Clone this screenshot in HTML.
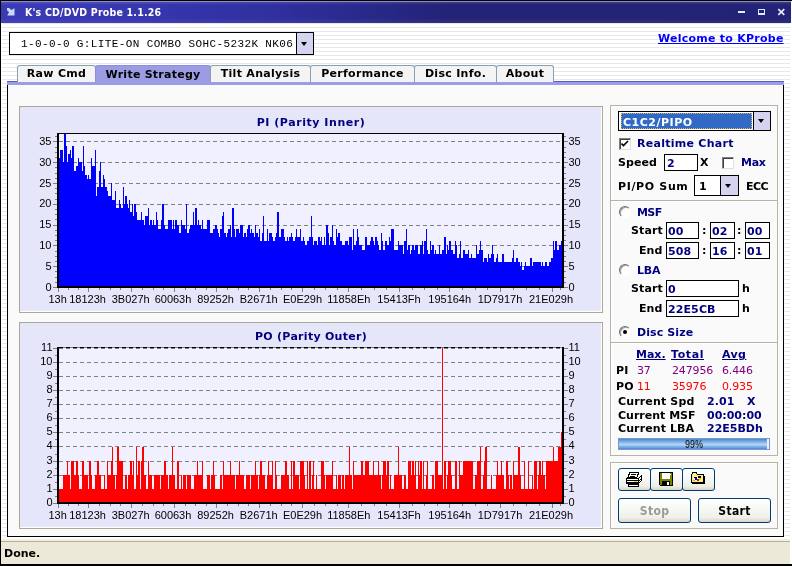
<!DOCTYPE html>
<html><head><meta charset="utf-8"><title>K's CD/DVD Probe 1.1.26</title>
<style>
*{box-sizing:border-box;margin:0;padding:0}
html,body{width:792px;height:566px;overflow:hidden;background:#fff}
body{position:relative;font-family:"DejaVu Sans","Liberation Sans",sans-serif;font-weight:bold;font-size:11px;color:#000}
.abs,body>div,body>svg,body>span{position:absolute}
#frame{left:0;top:0;width:792px;height:566px;background:#fff;border-left:1px solid #000;border-top:1px solid #000;border-bottom:2px solid #000}
#client{left:2px;top:23px;width:788px;height:516px;background:repeating-linear-gradient(to bottom,#e8e8e8 0,#e8e8e8 1px,#fff 1px,#fff 4px)}
#title{left:1px;top:1px;width:790px;height:22px;border-top:1px solid #8c8cc4;background:linear-gradient(to bottom,rgba(255,255,255,.12) 0,rgba(255,255,255,0) 3px,rgba(255,255,255,0) 16px,rgba(255,255,255,.06) 100%),linear-gradient(to right,#3a3ab6 0,#3636ae 150px,#2f2f9e 280px,#29298c 360px,#232378 440px,#222276 100%)}
#ttext{left:24.5px;top:6px;color:#fff;font-family:'DejaVu Sans Condensed','DejaVu Sans',sans-serif;font-size:10.5px;letter-spacing:0.2px;white-space:nowrap}
#status{left:1px;top:539px;width:789px;height:25px;background:#ece9d8;border-top:2px solid #f2efdf;box-shadow:inset 0 1px 0 #b4b09c}
#stext{left:4px;top:547px;letter-spacing:0px}
.t{white-space:nowrap;line-height:13px;will-change:transform}
.navy{color:#000080}
.cpanel{left:19px;width:584px;height:207px;background:#e6e6fa;border:1px solid #aca899;box-shadow:inset -1px -1px 0 #fff}
.csvg{pointer-events:none;will-change:transform}
.tab span,.btn span,.ctitle,#ttext{will-change:transform}
.ctitle{left:19px;width:584px;text-align:center;font-size:11px;letter-spacing:0.55px;color:#000080;line-height:13px}

body{letter-spacing:0.1px}
.mono{font-family:"Liberation Mono",monospace;font-weight:normal;font-size:11px;letter-spacing:0.38px}
.link{color:#00f;text-decoration:underline}
.u{text-decoration:underline}
.val{font-weight:normal;letter-spacing:-0.15px}
.ddbtn{background:#d4d4f0}
.arrow{width:0;height:0;border-left:3.5px solid transparent;border-right:3.5px solid transparent;border-top:4px solid #000}
.tab{top:65px;height:17px;background:#f4f4f4;border:1px solid #8aa0b0;border-bottom:0;border-radius:3px 3px 0 0;text-align:center;line-height:15px}
.tab span{position:relative;top:0px;letter-spacing:0.3px}
.tab.act span{top:1px;letter-spacing:0.25px}
.tab.act{top:65px;height:17px;background:#9c9ce4;border-color:#8c8ce0}
.grp{border:1px solid #b8b4a4;box-shadow:inset 1px 1px 0 #fff}
.edit{background:#fff;border:1px solid #000}
.chk{width:12px;height:12px;background:#fff;border:1px solid #808080;border-right-color:#e0e0e0;border-bottom-color:#e0e0e0;box-shadow:inset 1px 1px 0 #404040}
.radio{width:12px;height:12px;background:#fff;border-radius:6px;border:1px solid #707070;border-right-color:#fff;border-bottom-color:#fff;box-shadow:inset 1px 1px 0 #a0a0a0}
#prog{border:1px solid #7a98c8;background:linear-gradient(to bottom,#4a86d8 0,#9cc8f0 45%,#b4d8f4 55%,#4a86d8 100%)}
.btn span{position:relative;top:1px}
.btn{background:linear-gradient(to bottom,#fff,#f0f0ea 80%,#d8d4c8);border:1px solid #003c74;border-radius:3px;text-align:center;line-height:22px;font-family:'DejaVu Sans Condensed','DejaVu Sans',sans-serif;font-size:12px;letter-spacing:0.35px}
</style></head><body>
<div id="frame"></div>
<div id="title"></div>
<div id="ttext" class="t">K's CD/DVD Probe 1.1.26</div>
<svg style="left:6.5px;top:8px" width="8" height="8" viewBox="0 0 8 8"><path d="M0 0h2.2l2 2L7.5 0.3V7.5H0.3L2 4.2 0 2.2z" fill="#c8d8fa"/></svg>
<svg style="left:738px;top:8px" width="50" height="10" viewBox="0 0 50 10" shape-rendering="crispEdges">
<rect x="0" y="3" width="7" height="2" fill="#e4eaff"/>
<rect x="20.5" y="1.5" width="6" height="5" fill="none" stroke="#dfe6ff"/><rect x="20" y="5" width="7" height="2" fill="#dfe6ff"/>
<path d="M40.3 1.2l6 5.6M46.3 1.2l-6 5.6" stroke="#e8ecff" stroke-width="1.7" shape-rendering="auto"/>
</svg>
<div id="client"></div>

<div id="combo" style="left:9px;top:32px;width:305px;height:23px;background:#fff;border:1px solid #000"></div>
<div class="t mono" style="left:20.5px;top:38px">1-0-0-0 G:LITE-ON COMBO SOHC-5232K NK06</div>
<div class="ddbtn" style="left:296px;top:33px;width:17px;height:21px;border-left:1px solid #000"></div>
<div class="arrow" style="left:301px;top:42px"></div>
<div class="t link" style="left:658px;top:32px;letter-spacing:0.25px">Welcome to KProbe</div>


<div id="tpanel" style="left:7px;top:81px;width:777px;height:456px;background:#fafafa;border:1px solid #000;border-top:0"></div>
<div id="tband" style="left:7px;top:81px;width:777px;height:4px;background:#9c9cea;border-top:1px solid #5c5cc0"></div>
<div class="tab" style="left:17px;width:79px"><span>Raw Cmd</span></div>
<div class="tab act" style="left:95px;width:116px"><span>Write Strategy</span></div>
<div class="tab" style="left:210px;width:101px"><span>Tilt Analysis</span></div>
<div class="tab" style="left:310px;width:105px"><span>Performance</span></div>
<div class="tab" style="left:414px;width:83px"><span>Disc Info.</span></div>
<div class="tab" style="left:496px;width:58px"><span>About</span></div>

<div class="cpanel" style="top:106px"></div>
<svg class="csvg" style="top:0;left:0" width="792" height="566" viewBox="0 0 792 566" shape-rendering="crispEdges">
<defs><clipPath id="cp1"><rect x="57" y="134" width="507" height="154"/></clipPath></defs>
<rect x="57" y="133" width="507" height="155" fill="#f0f0ff"/>
<line x1="59" x2="563" y1="266.5" y2="266.5" stroke="#808080" stroke-width="1" stroke-dasharray="4 3"/>
<line x1="59" x2="563" y1="245.5" y2="245.5" stroke="#808080" stroke-width="1" stroke-dasharray="4 3"/>
<line x1="59" x2="563" y1="225.5" y2="225.5" stroke="#808080" stroke-width="1" stroke-dasharray="4 3"/>
<line x1="59" x2="563" y1="204.5" y2="204.5" stroke="#808080" stroke-width="1" stroke-dasharray="4 3"/>
<line x1="59" x2="563" y1="183.5" y2="183.5" stroke="#808080" stroke-width="1" stroke-dasharray="4 3"/>
<line x1="59" x2="563" y1="162.5" y2="162.5" stroke="#808080" stroke-width="1" stroke-dasharray="4 3"/>
<line x1="59" x2="563" y1="141.5" y2="141.5" stroke="#808080" stroke-width="1" stroke-dasharray="4 3"/>
<path d="M59 287.0v-129.0h1v129.0zM60 287.0v-137.3h3v137.3zM63 287.0v-124.8h1v124.8zM64 287.0v-153.9h2v153.9zM66 287.0v-141.4h1v141.4zM67 287.0v-124.8h1v124.8zM68 287.0v-133.1h2v133.1zM70 287.0v-137.3h1v137.3zM71 287.0v-129.0h1v129.0zM72 287.0v-141.4h2v141.4zM74 287.0v-116.5h2v116.5zM76 287.0v-120.6h2v120.6zM78 287.0v-129.0h1v129.0zM79 287.0v-124.8h3v124.8zM82 287.0v-116.5h1v116.5zM83 287.0v-141.4h1v141.4zM84 287.0v-120.6h1v120.6zM85 287.0v-112.3h2v112.3zM87 287.0v-108.2h1v108.2zM88 287.0v-112.3h1v112.3zM89 287.0v-108.2h2v108.2zM91 287.0v-129.0h1v129.0zM92 287.0v-120.6h3v120.6zM95 287.0v-137.3h1v137.3zM96 287.0v-91.5h1v91.5zM97 287.0v-99.8h2v99.8zM99 287.0v-116.5h1v116.5zM100 287.0v-124.8h1v124.8zM101 287.0v-99.8h2v99.8zM103 287.0v-112.3h1v112.3zM104 287.0v-108.2h1v108.2zM105 287.0v-99.8h2v99.8zM107 287.0v-95.7h1v95.7zM108 287.0v-91.5h3v91.5zM111 287.0v-104.0h1v104.0zM112 287.0v-87.4h3v87.4zM115 287.0v-95.7h1v95.7zM116 287.0v-79.0h3v79.0zM119 287.0v-87.4h1v87.4zM120 287.0v-83.2h1v83.2zM121 287.0v-79.0h2v79.0zM123 287.0v-99.8h1v99.8zM124 287.0v-83.2h1v83.2zM125 287.0v-91.5h2v91.5zM127 287.0v-83.2h1v83.2zM128 287.0v-79.0h1v79.0zM129 287.0v-87.4h1v87.4zM130 287.0v-74.9h2v74.9zM132 287.0v-83.2h1v83.2zM133 287.0v-70.7h1v70.7zM134 287.0v-83.2h2v83.2zM136 287.0v-74.9h1v74.9zM137 287.0v-66.6h4v66.6zM141 287.0v-74.9h1v74.9zM142 287.0v-66.6h2v66.6zM144 287.0v-62.4h1v62.4zM145 287.0v-70.7h3v70.7zM148 287.0v-79.0h1v79.0zM149 287.0v-62.4h1v62.4zM150 287.0v-66.6h2v66.6zM152 287.0v-62.4h1v62.4zM153 287.0v-66.6h1v66.6zM154 287.0v-62.4h2v62.4zM156 287.0v-74.9h1v74.9zM157 287.0v-66.6h1v66.6zM158 287.0v-58.2h3v58.2zM161 287.0v-66.6h1v66.6zM162 287.0v-83.2h2v83.2zM164 287.0v-62.4h1v62.4zM165 287.0v-58.2h3v58.2zM168 287.0v-66.6h4v66.6zM172 287.0v-58.2h1v58.2zM173 287.0v-66.6h1v66.6zM174 287.0v-58.2h1v58.2zM175 287.0v-66.6h2v66.6zM177 287.0v-62.4h2v62.4zM179 287.0v-54.1h2v54.1zM181 287.0v-66.6h1v66.6zM182 287.0v-62.4h3v62.4zM185 287.0v-58.2h1v58.2zM186 287.0v-83.2h1v83.2zM187 287.0v-54.1h2v54.1zM189 287.0v-58.2h1v58.2zM190 287.0v-62.4h3v62.4zM193 287.0v-74.9h1v74.9zM194 287.0v-62.4h1v62.4zM195 287.0v-79.0h2v79.0zM197 287.0v-62.4h1v62.4zM198 287.0v-66.6h1v66.6zM199 287.0v-62.4h2v62.4zM201 287.0v-58.2h1v58.2zM202 287.0v-66.6h1v66.6zM203 287.0v-58.2h4v58.2zM207 287.0v-66.6h3v66.6zM210 287.0v-54.1h3v54.1zM213 287.0v-58.2h2v58.2zM215 287.0v-62.4h2v62.4zM217 287.0v-58.2h1v58.2zM218 287.0v-54.1h1v54.1zM219 287.0v-49.9h1v49.9zM220 287.0v-58.2h2v58.2zM222 287.0v-70.7h1v70.7zM223 287.0v-74.9h1v74.9zM224 287.0v-54.1h2v54.1zM226 287.0v-49.9h1v49.9zM227 287.0v-54.1h1v54.1zM228 287.0v-58.2h2v58.2zM230 287.0v-62.4h1v62.4zM231 287.0v-49.9h1v49.9zM232 287.0v-79.0h2v79.0zM234 287.0v-58.2h1v58.2zM235 287.0v-49.9h1v49.9zM236 287.0v-58.2h3v58.2zM239 287.0v-54.1h1v54.1zM240 287.0v-62.4h3v62.4zM243 287.0v-49.9h1v49.9zM244 287.0v-54.1h2v54.1zM246 287.0v-49.9h1v49.9zM247 287.0v-58.2h1v58.2zM248 287.0v-62.4h2v62.4zM250 287.0v-54.1h1v54.1zM251 287.0v-58.2h1v58.2zM252 287.0v-54.1h2v54.1zM254 287.0v-49.9h1v49.9zM255 287.0v-62.4h1v62.4zM256 287.0v-54.1h2v54.1zM258 287.0v-49.9h1v49.9zM259 287.0v-58.2h1v58.2zM260 287.0v-45.8h2v45.8zM262 287.0v-54.1h1v54.1zM263 287.0v-70.7h1v70.7zM264 287.0v-45.8h3v45.8zM267 287.0v-58.2h1v58.2zM268 287.0v-45.8h1v45.8zM269 287.0v-54.1h3v54.1zM272 287.0v-49.9h1v49.9zM273 287.0v-45.8h2v45.8zM275 287.0v-49.9h1v49.9zM276 287.0v-54.1h1v54.1zM277 287.0v-74.9h2v74.9zM279 287.0v-49.9h2v49.9zM281 287.0v-58.2h3v58.2zM284 287.0v-49.9h1v49.9zM285 287.0v-45.8h2v45.8zM287 287.0v-49.9h1v49.9zM288 287.0v-45.8h1v45.8zM289 287.0v-49.9h2v49.9zM291 287.0v-54.1h1v54.1zM292 287.0v-49.9h1v49.9zM293 287.0v-45.8h2v45.8zM295 287.0v-49.9h1v49.9zM296 287.0v-58.2h1v58.2zM297 287.0v-49.9h3v49.9zM300 287.0v-58.2h1v58.2zM301 287.0v-45.8h2v45.8zM303 287.0v-49.9h1v49.9zM304 287.0v-45.8h1v45.8zM305 287.0v-41.6h2v41.6zM307 287.0v-45.8h2v45.8zM309 287.0v-49.9h2v49.9zM311 287.0v-70.7h1v70.7zM312 287.0v-49.9h1v49.9zM313 287.0v-41.6h1v41.6zM314 287.0v-45.8h3v45.8zM317 287.0v-41.6h1v41.6zM318 287.0v-49.9h2v49.9zM320 287.0v-45.8h1v45.8zM321 287.0v-49.9h1v49.9zM322 287.0v-41.6h2v41.6zM324 287.0v-49.9h1v49.9zM325 287.0v-41.6h1v41.6zM326 287.0v-62.4h2v62.4zM328 287.0v-54.1h1v54.1zM329 287.0v-41.6h1v41.6zM330 287.0v-49.9h2v49.9zM332 287.0v-62.4h1v62.4zM333 287.0v-45.8h1v45.8zM334 287.0v-41.6h2v41.6zM336 287.0v-58.2h1v58.2zM337 287.0v-49.9h1v49.9zM338 287.0v-54.1h2v54.1zM340 287.0v-45.8h2v45.8zM342 287.0v-41.6h3v41.6zM345 287.0v-45.8h3v45.8zM348 287.0v-41.6h1v41.6zM349 287.0v-49.9h3v49.9zM352 287.0v-37.4h1v37.4zM353 287.0v-58.2h1v58.2zM354 287.0v-41.6h2v41.6zM356 287.0v-45.8h1v45.8zM357 287.0v-58.2h1v58.2zM358 287.0v-49.9h1v49.9zM359 287.0v-41.6h3v41.6zM362 287.0v-37.4h3v37.4zM365 287.0v-49.9h2v49.9zM367 287.0v-41.6h3v41.6zM370 287.0v-45.8h1v45.8zM371 287.0v-49.9h2v49.9zM373 287.0v-45.8h1v45.8zM374 287.0v-41.6h1v41.6zM375 287.0v-49.9h2v49.9zM377 287.0v-45.8h1v45.8zM378 287.0v-41.6h1v41.6zM379 287.0v-37.4h2v37.4zM381 287.0v-54.1h1v54.1zM382 287.0v-45.8h1v45.8zM383 287.0v-37.4h2v37.4zM385 287.0v-45.8h2v45.8zM387 287.0v-41.6h2v41.6zM389 287.0v-49.9h1v49.9zM390 287.0v-45.8h1v45.8zM391 287.0v-58.2h3v58.2zM394 287.0v-37.4h4v37.4zM398 287.0v-45.8h1v45.8zM399 287.0v-41.6h4v41.6zM403 287.0v-33.3h1v33.3zM404 287.0v-45.8h2v45.8zM406 287.0v-58.2h1v58.2zM407 287.0v-37.4h1v37.4zM408 287.0v-41.6h2v41.6zM410 287.0v-33.3h1v33.3zM411 287.0v-37.4h1v37.4zM412 287.0v-41.6h2v41.6zM414 287.0v-37.4h1v37.4zM415 287.0v-41.6h3v41.6zM418 287.0v-33.3h2v33.3zM420 287.0v-41.6h2v41.6zM422 287.0v-45.8h1v45.8zM423 287.0v-33.3h1v33.3zM424 287.0v-45.8h2v45.8zM426 287.0v-58.2h1v58.2zM427 287.0v-37.4h1v37.4zM428 287.0v-33.3h2v33.3zM430 287.0v-45.8h1v45.8zM431 287.0v-37.4h1v37.4zM432 287.0v-41.6h2v41.6zM434 287.0v-33.3h1v33.3zM435 287.0v-37.4h1v37.4zM436 287.0v-33.3h3v33.3zM439 287.0v-41.6h1v41.6zM440 287.0v-33.3h2v33.3zM442 287.0v-37.4h2v37.4zM444 287.0v-49.9h2v49.9zM446 287.0v-33.3h1v33.3zM447 287.0v-41.6h1v41.6zM448 287.0v-37.4h1v37.4zM449 287.0v-45.8h2v45.8zM451 287.0v-37.4h2v37.4zM453 287.0v-33.3h2v33.3zM455 287.0v-45.8h1v45.8zM456 287.0v-41.6h1v41.6zM457 287.0v-29.1h2v29.1zM459 287.0v-33.3h1v33.3zM460 287.0v-45.8h1v45.8zM461 287.0v-29.1h2v29.1zM463 287.0v-37.4h2v37.4zM465 287.0v-33.3h3v33.3zM468 287.0v-37.4h1v37.4zM469 287.0v-29.1h2v29.1zM471 287.0v-33.3h1v33.3zM472 287.0v-29.1h4v29.1zM476 287.0v-41.6h1v41.6zM477 287.0v-33.3h2v33.3zM479 287.0v-37.4h1v37.4zM480 287.0v-45.8h1v45.8zM481 287.0v-37.4h2v37.4zM483 287.0v-25.0h1v25.0zM484 287.0v-29.1h3v29.1zM487 287.0v-25.0h1v25.0zM488 287.0v-33.3h1v33.3zM489 287.0v-29.1h2v29.1zM491 287.0v-33.3h1v33.3zM492 287.0v-41.6h1v41.6zM493 287.0v-33.3h1v33.3zM494 287.0v-25.0h2v25.0zM496 287.0v-29.1h1v29.1zM497 287.0v-33.3h1v33.3zM498 287.0v-25.0h4v25.0zM502 287.0v-33.3h2v33.3zM504 287.0v-25.0h8v25.0zM512 287.0v-29.1h1v29.1zM513 287.0v-37.4h1v37.4zM514 287.0v-25.0h2v25.0zM516 287.0v-29.1h2v29.1zM518 287.0v-25.0h2v25.0zM520 287.0v-20.8h1v20.8zM521 287.0v-25.0h1v25.0zM522 287.0v-16.6h2v16.6zM524 287.0v-20.8h1v20.8zM525 287.0v-25.0h1v25.0zM526 287.0v-20.8h4v20.8zM530 287.0v-29.1h2v29.1zM532 287.0v-20.8h1v20.8zM533 287.0v-25.0h8v25.0zM541 287.0v-20.8h1v20.8zM542 287.0v-25.0h1v25.0zM543 287.0v-20.8h2v20.8zM545 287.0v-25.0h2v25.0zM547 287.0v-20.8h2v20.8zM549 287.0v-25.0h2v25.0zM551 287.0v-29.1h2v29.1zM553 287.0v-45.8h1v45.8zM554 287.0v-37.4h1v37.4zM555 287.0v-45.8h2v45.8zM557 287.0v-37.4h2v37.4zM559 287.0v-41.6h2v41.6zM561 287.0v-45.8h1v45.8z" fill="#0000ff" clip-path="url(#cp1)"/>
<rect x="57" y="133" width="507" height="1" fill="#000"/>
<rect x="57" y="133" width="2" height="155" fill="#000"/>
<rect x="562" y="133" width="2" height="155" fill="#000"/>
<rect x="57" y="286" width="507" height="2" fill="#000"/>
<line x1="53" x2="57" y1="287.5" y2="287.5" stroke="#808080"/>
<line x1="564" x2="568" y1="287.5" y2="287.5" stroke="#808080"/>
<line x1="55" x2="57" y1="282.5" y2="282.5" stroke="#808080"/>
<line x1="564" x2="566" y1="282.5" y2="282.5" stroke="#808080"/>
<line x1="55" x2="57" y1="277.5" y2="277.5" stroke="#808080"/>
<line x1="564" x2="566" y1="277.5" y2="277.5" stroke="#808080"/>
<line x1="55" x2="57" y1="271.5" y2="271.5" stroke="#808080"/>
<line x1="564" x2="566" y1="271.5" y2="271.5" stroke="#808080"/>
<line x1="53" x2="57" y1="266.5" y2="266.5" stroke="#808080"/>
<line x1="564" x2="568" y1="266.5" y2="266.5" stroke="#808080"/>
<line x1="55" x2="57" y1="261.5" y2="261.5" stroke="#808080"/>
<line x1="564" x2="566" y1="261.5" y2="261.5" stroke="#808080"/>
<line x1="55" x2="57" y1="256.5" y2="256.5" stroke="#808080"/>
<line x1="564" x2="566" y1="256.5" y2="256.5" stroke="#808080"/>
<line x1="55" x2="57" y1="251.5" y2="251.5" stroke="#808080"/>
<line x1="564" x2="566" y1="251.5" y2="251.5" stroke="#808080"/>
<line x1="53" x2="57" y1="245.5" y2="245.5" stroke="#808080"/>
<line x1="564" x2="568" y1="245.5" y2="245.5" stroke="#808080"/>
<line x1="55" x2="57" y1="240.5" y2="240.5" stroke="#808080"/>
<line x1="564" x2="566" y1="240.5" y2="240.5" stroke="#808080"/>
<line x1="55" x2="57" y1="235.5" y2="235.5" stroke="#808080"/>
<line x1="564" x2="566" y1="235.5" y2="235.5" stroke="#808080"/>
<line x1="55" x2="57" y1="230.5" y2="230.5" stroke="#808080"/>
<line x1="564" x2="566" y1="230.5" y2="230.5" stroke="#808080"/>
<line x1="53" x2="57" y1="225.5" y2="225.5" stroke="#808080"/>
<line x1="564" x2="568" y1="225.5" y2="225.5" stroke="#808080"/>
<line x1="55" x2="57" y1="219.5" y2="219.5" stroke="#808080"/>
<line x1="564" x2="566" y1="219.5" y2="219.5" stroke="#808080"/>
<line x1="55" x2="57" y1="214.5" y2="214.5" stroke="#808080"/>
<line x1="564" x2="566" y1="214.5" y2="214.5" stroke="#808080"/>
<line x1="55" x2="57" y1="209.5" y2="209.5" stroke="#808080"/>
<line x1="564" x2="566" y1="209.5" y2="209.5" stroke="#808080"/>
<line x1="53" x2="57" y1="204.5" y2="204.5" stroke="#808080"/>
<line x1="564" x2="568" y1="204.5" y2="204.5" stroke="#808080"/>
<line x1="55" x2="57" y1="199.5" y2="199.5" stroke="#808080"/>
<line x1="564" x2="566" y1="199.5" y2="199.5" stroke="#808080"/>
<line x1="55" x2="57" y1="193.5" y2="193.5" stroke="#808080"/>
<line x1="564" x2="566" y1="193.5" y2="193.5" stroke="#808080"/>
<line x1="55" x2="57" y1="188.5" y2="188.5" stroke="#808080"/>
<line x1="564" x2="566" y1="188.5" y2="188.5" stroke="#808080"/>
<line x1="53" x2="57" y1="183.5" y2="183.5" stroke="#808080"/>
<line x1="564" x2="568" y1="183.5" y2="183.5" stroke="#808080"/>
<line x1="55" x2="57" y1="178.5" y2="178.5" stroke="#808080"/>
<line x1="564" x2="566" y1="178.5" y2="178.5" stroke="#808080"/>
<line x1="55" x2="57" y1="173.5" y2="173.5" stroke="#808080"/>
<line x1="564" x2="566" y1="173.5" y2="173.5" stroke="#808080"/>
<line x1="55" x2="57" y1="167.5" y2="167.5" stroke="#808080"/>
<line x1="564" x2="566" y1="167.5" y2="167.5" stroke="#808080"/>
<line x1="53" x2="57" y1="162.5" y2="162.5" stroke="#808080"/>
<line x1="564" x2="568" y1="162.5" y2="162.5" stroke="#808080"/>
<line x1="55" x2="57" y1="157.5" y2="157.5" stroke="#808080"/>
<line x1="564" x2="566" y1="157.5" y2="157.5" stroke="#808080"/>
<line x1="55" x2="57" y1="152.5" y2="152.5" stroke="#808080"/>
<line x1="564" x2="566" y1="152.5" y2="152.5" stroke="#808080"/>
<line x1="55" x2="57" y1="147.5" y2="147.5" stroke="#808080"/>
<line x1="564" x2="566" y1="147.5" y2="147.5" stroke="#808080"/>
<line x1="53" x2="57" y1="141.5" y2="141.5" stroke="#808080"/>
<line x1="564" x2="568" y1="141.5" y2="141.5" stroke="#808080"/>
<line x1="55" x2="57" y1="136.5" y2="136.5" stroke="#808080"/>
<line x1="564" x2="566" y1="136.5" y2="136.5" stroke="#808080"/>
<line x1="58.5" x2="58.5" y1="288" y2="292" stroke="#808080"/>
<line x1="88.5" x2="88.5" y1="288" y2="292" stroke="#808080"/>
<line x1="131.5" x2="131.5" y1="288" y2="292" stroke="#808080"/>
<line x1="174.5" x2="174.5" y1="288" y2="292" stroke="#808080"/>
<line x1="216.5" x2="216.5" y1="288" y2="292" stroke="#808080"/>
<line x1="259.5" x2="259.5" y1="288" y2="292" stroke="#808080"/>
<line x1="302.5" x2="302.5" y1="288" y2="292" stroke="#808080"/>
<line x1="348.5" x2="348.5" y1="288" y2="292" stroke="#808080"/>
<line x1="399.5" x2="399.5" y1="288" y2="292" stroke="#808080"/>
<line x1="449.5" x2="449.5" y1="288" y2="292" stroke="#808080"/>
<line x1="500.5" x2="500.5" y1="288" y2="292" stroke="#808080"/>
<line x1="552.5" x2="552.5" y1="288" y2="292" stroke="#808080"/>
<line x1="68.5" x2="68.5" y1="288" y2="290" stroke="#808080"/>
<line x1="78.5" x2="78.5" y1="288" y2="290" stroke="#808080"/>
<line x1="99.5" x2="99.5" y1="288" y2="290" stroke="#808080"/>
<line x1="110.5" x2="110.5" y1="288" y2="290" stroke="#808080"/>
<line x1="120.5" x2="120.5" y1="288" y2="290" stroke="#808080"/>
<line x1="142.5" x2="142.5" y1="288" y2="290" stroke="#808080"/>
<line x1="153.5" x2="153.5" y1="288" y2="290" stroke="#808080"/>
<line x1="163.5" x2="163.5" y1="288" y2="290" stroke="#808080"/>
<line x1="185.5" x2="185.5" y1="288" y2="290" stroke="#808080"/>
<line x1="195.5" x2="195.5" y1="288" y2="290" stroke="#808080"/>
<line x1="206.5" x2="206.5" y1="288" y2="290" stroke="#808080"/>
<line x1="227.5" x2="227.5" y1="288" y2="290" stroke="#808080"/>
<line x1="238.5" x2="238.5" y1="288" y2="290" stroke="#808080"/>
<line x1="248.5" x2="248.5" y1="288" y2="290" stroke="#808080"/>
<line x1="270.5" x2="270.5" y1="288" y2="290" stroke="#808080"/>
<line x1="281.5" x2="281.5" y1="288" y2="290" stroke="#808080"/>
<line x1="291.5" x2="291.5" y1="288" y2="290" stroke="#808080"/>
<line x1="314.5" x2="314.5" y1="288" y2="290" stroke="#808080"/>
<line x1="325.5" x2="325.5" y1="288" y2="290" stroke="#808080"/>
<line x1="337.5" x2="337.5" y1="288" y2="290" stroke="#808080"/>
<line x1="361.5" x2="361.5" y1="288" y2="290" stroke="#808080"/>
<line x1="374.5" x2="374.5" y1="288" y2="290" stroke="#808080"/>
<line x1="386.5" x2="386.5" y1="288" y2="290" stroke="#808080"/>
<line x1="412.5" x2="412.5" y1="288" y2="290" stroke="#808080"/>
<line x1="424.5" x2="424.5" y1="288" y2="290" stroke="#808080"/>
<line x1="437.5" x2="437.5" y1="288" y2="290" stroke="#808080"/>
<line x1="462.5" x2="462.5" y1="288" y2="290" stroke="#808080"/>
<line x1="475.5" x2="475.5" y1="288" y2="290" stroke="#808080"/>
<line x1="487.5" x2="487.5" y1="288" y2="290" stroke="#808080"/>
<line x1="513.5" x2="513.5" y1="288" y2="290" stroke="#808080"/>
<line x1="526.5" x2="526.5" y1="288" y2="290" stroke="#808080"/>
<line x1="539.5" x2="539.5" y1="288" y2="290" stroke="#808080"/>
<line x1="560.5" x2="560.5" y1="288" y2="290" stroke="#808080"/>
<g font-family="Liberation Sans, Arial, sans-serif" font-size="11" font-weight="normal" letter-spacing="0" fill="#000" shape-rendering="auto">
<text x="51.5" y="290.5" text-anchor="end">0</text>
<text x="568.5" y="290.5">0</text>
<text x="51.5" y="269.7" text-anchor="end">5</text>
<text x="568.5" y="269.7">5</text>
<text x="51.5" y="248.9" text-anchor="end">10</text>
<text x="568.5" y="248.9">10</text>
<text x="51.5" y="228.1" text-anchor="end">15</text>
<text x="568.5" y="228.1">15</text>
<text x="51.5" y="207.3" text-anchor="end">20</text>
<text x="568.5" y="207.3">20</text>
<text x="51.5" y="186.5" text-anchor="end">25</text>
<text x="568.5" y="186.5">25</text>
<text x="51.5" y="165.7" text-anchor="end">30</text>
<text x="568.5" y="165.7">30</text>
<text x="51.5" y="144.9" text-anchor="end">35</text>
<text x="568.5" y="144.9">35</text>
<text x="57.6" y="302.5" text-anchor="middle">13h</text>
<text x="87.6" y="302.5" text-anchor="middle">18123h</text>
<text x="130.7" y="302.5" text-anchor="middle">3B027h</text>
<text x="173" y="302.5" text-anchor="middle">60063h</text>
<text x="215.6" y="302.5" text-anchor="middle">89252h</text>
<text x="258.7" y="302.5" text-anchor="middle">B2671h</text>
<text x="302.5" y="302.5" text-anchor="middle">E0E29h</text>
<text x="348.8" y="302.5" text-anchor="middle">11858Eh</text>
<text x="399" y="302.5" text-anchor="middle">15413Fh</text>
<text x="449.7" y="302.5" text-anchor="middle">195164h</text>
<text x="500" y="302.5" text-anchor="middle">1D7917h</text>
<text x="551" y="302.5" text-anchor="middle">21E029h</text>
</g>
</svg>
<div class="ctitle" style="top:116px;letter-spacing:0.55px">PI (Parity Inner)</div>
<div class="cpanel" style="top:322px"></div>
<svg class="csvg" style="top:0;left:0" width="792" height="566" viewBox="0 0 792 566" shape-rendering="crispEdges">
<defs><clipPath id="cp2"><rect x="57" y="348" width="507" height="156"/></clipPath></defs>
<rect x="57" y="347" width="507" height="157" fill="#f0f0ff"/>
<line x1="59" x2="563" y1="489.5" y2="489.5" stroke="#808080" stroke-width="1" stroke-dasharray="4 3"/>
<line x1="59" x2="563" y1="475.5" y2="475.5" stroke="#808080" stroke-width="1" stroke-dasharray="4 3"/>
<line x1="59" x2="563" y1="461.5" y2="461.5" stroke="#808080" stroke-width="1" stroke-dasharray="4 3"/>
<line x1="59" x2="563" y1="446.5" y2="446.5" stroke="#808080" stroke-width="1" stroke-dasharray="4 3"/>
<line x1="59" x2="563" y1="432.5" y2="432.5" stroke="#808080" stroke-width="1" stroke-dasharray="4 3"/>
<line x1="59" x2="563" y1="418.5" y2="418.5" stroke="#808080" stroke-width="1" stroke-dasharray="4 3"/>
<line x1="59" x2="563" y1="404.5" y2="404.5" stroke="#808080" stroke-width="1" stroke-dasharray="4 3"/>
<line x1="59" x2="563" y1="390.5" y2="390.5" stroke="#808080" stroke-width="1" stroke-dasharray="4 3"/>
<line x1="59" x2="563" y1="376.5" y2="376.5" stroke="#808080" stroke-width="1" stroke-dasharray="4 3"/>
<line x1="59" x2="563" y1="362.5" y2="362.5" stroke="#808080" stroke-width="1" stroke-dasharray="4 3"/>
<line x1="59" x2="563" y1="348.5" y2="348.5" stroke="#808080" stroke-width="1" stroke-dasharray="4 3"/>
<path d="M59 503.0v-14.1h4v14.1zM63 503.0v-28.3h4v28.3zM67 503.0v-42.4h1v42.4zM68 503.0v-28.3h2v28.3zM70 503.0v-14.1h1v14.1zM71 503.0v-42.4h3v42.4zM74 503.0v-28.3h2v28.3zM76 503.0v-42.4h2v42.4zM78 503.0v-28.3h1v28.3zM79 503.0v-14.1h3v14.1zM82 503.0v-42.4h2v42.4zM84 503.0v-28.3h4v28.3zM88 503.0v-14.1h1v14.1zM89 503.0v-42.4h2v42.4zM91 503.0v-28.3h1v28.3zM92 503.0v-14.1h3v14.1zM95 503.0v-28.3h2v28.3zM97 503.0v-42.4h2v42.4zM99 503.0v-28.3h2v28.3zM101 503.0v-14.1h3v14.1zM104 503.0v-28.3h1v28.3zM105 503.0v-14.1h2v14.1zM107 503.0v-42.4h1v42.4zM108 503.0v-28.3h3v28.3zM111 503.0v-42.4h1v42.4zM112 503.0v-56.5h1v56.5zM113 503.0v-28.3h2v28.3zM115 503.0v-14.1h1v14.1zM116 503.0v-28.3h1v28.3zM117 503.0v-56.5h2v56.5zM119 503.0v-42.4h4v42.4zM123 503.0v-14.1h2v14.1zM125 503.0v-28.3h2v28.3zM127 503.0v-14.1h1v14.1zM128 503.0v-28.3h2v28.3zM130 503.0v-42.4h2v42.4zM132 503.0v-28.3h1v28.3zM133 503.0v-42.4h1v42.4zM134 503.0v-14.1h2v14.1zM136 503.0v-56.5h1v56.5zM137 503.0v-28.3h1v28.3zM138 503.0v-42.4h2v42.4zM140 503.0v-14.1h1v14.1zM141 503.0v-42.4h1v42.4zM142 503.0v-56.5h2v56.5zM144 503.0v-28.3h2v28.3zM146 503.0v-14.1h2v14.1zM148 503.0v-42.4h1v42.4zM149 503.0v-28.3h3v28.3zM152 503.0v-14.1h2v14.1zM154 503.0v-28.3h6v28.3zM160 503.0v-14.1h1v14.1zM161 503.0v-28.3h3v28.3zM164 503.0v-42.4h2v42.4zM166 503.0v-28.3h2v28.3zM168 503.0v-14.1h1v14.1zM169 503.0v-28.3h3v28.3zM172 503.0v-56.5h1v56.5zM173 503.0v-28.3h2v28.3zM175 503.0v-14.1h2v14.1zM177 503.0v-42.4h2v42.4zM179 503.0v-14.1h2v14.1zM181 503.0v-28.3h1v28.3zM182 503.0v-14.1h1v14.1zM183 503.0v-28.3h3v28.3zM186 503.0v-14.1h1v14.1zM187 503.0v-28.3h4v28.3zM191 503.0v-14.1h3v14.1zM194 503.0v-28.3h3v28.3zM197 503.0v-42.4h1v42.4zM198 503.0v-28.3h4v28.3zM202 503.0v-42.4h1v42.4zM203 503.0v-14.1h4v14.1zM207 503.0v-28.3h3v28.3zM210 503.0v-14.1h1v14.1zM211 503.0v-28.3h2v28.3zM213 503.0v-42.4h1v42.4zM214 503.0v-28.3h1v28.3zM215 503.0v-14.1h5v14.1zM220 503.0v-28.3h2v28.3zM222 503.0v-14.1h1v14.1zM223 503.0v-42.4h1v42.4zM224 503.0v-28.3h6v28.3zM230 503.0v-42.4h1v42.4zM231 503.0v-28.3h4v28.3zM235 503.0v-14.1h1v14.1zM236 503.0v-28.3h3v28.3zM239 503.0v-42.4h1v42.4zM240 503.0v-28.3h4v28.3zM244 503.0v-14.1h2v14.1zM246 503.0v-28.3h4v28.3zM250 503.0v-14.1h1v14.1zM251 503.0v-28.3h4v28.3zM255 503.0v-42.4h1v42.4zM256 503.0v-28.3h2v28.3zM258 503.0v-14.1h1v14.1zM259 503.0v-28.3h1v28.3zM260 503.0v-42.4h2v42.4zM262 503.0v-28.3h3v28.3zM265 503.0v-14.1h2v14.1zM267 503.0v-28.3h1v28.3zM268 503.0v-42.4h1v42.4zM269 503.0v-28.3h3v28.3zM272 503.0v-42.4h1v42.4zM273 503.0v-14.1h2v14.1zM275 503.0v-42.4h1v42.4zM276 503.0v-28.3h1v28.3zM277 503.0v-14.1h4v14.1zM281 503.0v-28.3h4v28.3zM285 503.0v-42.4h2v42.4zM287 503.0v-28.3h2v28.3zM289 503.0v-14.1h2v14.1zM291 503.0v-42.4h1v42.4zM292 503.0v-14.1h1v14.1zM293 503.0v-42.4h2v42.4zM295 503.0v-28.3h4v28.3zM299 503.0v-14.1h1v14.1zM300 503.0v-42.4h4v42.4zM304 503.0v-28.3h1v28.3zM305 503.0v-14.1h2v14.1zM307 503.0v-42.4h1v42.4zM308 503.0v-14.1h1v14.1zM309 503.0v-42.4h2v42.4zM311 503.0v-14.1h1v14.1zM312 503.0v-28.3h1v28.3zM313 503.0v-42.4h1v42.4zM314 503.0v-14.1h2v14.1zM316 503.0v-28.3h1v28.3zM317 503.0v-14.1h4v14.1zM321 503.0v-42.4h3v42.4zM324 503.0v-28.3h1v28.3zM325 503.0v-14.1h1v14.1zM326 503.0v-28.3h6v28.3zM332 503.0v-42.4h1v42.4zM333 503.0v-14.1h3v14.1zM336 503.0v-28.3h1v28.3zM337 503.0v-14.1h1v14.1zM338 503.0v-28.3h3v28.3zM341 503.0v-14.1h1v14.1zM342 503.0v-28.3h2v28.3zM344 503.0v-14.1h1v14.1zM345 503.0v-28.3h4v28.3zM349 503.0v-56.5h1v56.5zM350 503.0v-28.3h2v28.3zM352 503.0v-14.1h1v14.1zM353 503.0v-42.4h1v42.4zM354 503.0v-28.3h7v28.3zM361 503.0v-42.4h2v42.4zM363 503.0v-28.3h2v28.3zM365 503.0v-42.4h4v42.4zM369 503.0v-28.3h4v28.3zM373 503.0v-42.4h1v42.4zM374 503.0v-28.3h4v28.3zM378 503.0v-42.4h1v42.4zM379 503.0v-28.3h2v28.3zM381 503.0v-14.1h1v14.1zM382 503.0v-28.3h1v28.3zM383 503.0v-42.4h3v42.4zM386 503.0v-28.3h1v28.3zM387 503.0v-42.4h2v42.4zM389 503.0v-14.1h1v14.1zM390 503.0v-28.3h1v28.3zM391 503.0v-14.1h3v14.1zM394 503.0v-28.3h4v28.3zM398 503.0v-56.5h1v56.5zM399 503.0v-28.3h3v28.3zM402 503.0v-14.1h2v14.1zM404 503.0v-28.3h2v28.3zM406 503.0v-14.1h2v14.1zM408 503.0v-42.4h3v42.4zM411 503.0v-28.3h1v28.3zM412 503.0v-42.4h2v42.4zM414 503.0v-28.3h1v28.3zM415 503.0v-42.4h1v42.4zM416 503.0v-14.1h2v14.1zM418 503.0v-42.4h1v42.4zM419 503.0v-28.3h1v28.3zM420 503.0v-42.4h2v42.4zM422 503.0v-14.1h1v14.1zM423 503.0v-42.4h1v42.4zM424 503.0v-14.1h2v14.1zM426 503.0v-28.3h1v28.3zM427 503.0v-42.4h1v42.4zM428 503.0v-14.1h4v14.1zM432 503.0v-28.3h2v28.3zM434 503.0v-14.1h1v14.1zM435 503.0v-42.4h3v42.4zM438 503.0v-28.3h4v28.3zM442 503.0v-155.4h1v155.4zM443 503.0v-14.1h1v14.1zM444 503.0v-42.4h2v42.4zM446 503.0v-14.1h1v14.1zM447 503.0v-28.3h1v28.3zM448 503.0v-42.4h3v42.4zM451 503.0v-28.3h1v28.3zM452 503.0v-14.1h3v14.1zM455 503.0v-42.4h2v42.4zM457 503.0v-14.1h2v14.1zM459 503.0v-42.4h1v42.4zM460 503.0v-28.3h3v28.3zM463 503.0v-42.4h10v42.4zM473 503.0v-14.1h2v14.1zM475 503.0v-28.3h2v28.3zM477 503.0v-42.4h3v42.4zM480 503.0v-56.5h1v56.5zM481 503.0v-14.1h2v14.1zM483 503.0v-28.3h1v28.3zM484 503.0v-42.4h1v42.4zM485 503.0v-56.5h2v56.5zM487 503.0v-14.1h4v14.1zM491 503.0v-28.3h1v28.3zM492 503.0v-14.1h4v14.1zM496 503.0v-28.3h1v28.3zM497 503.0v-42.4h1v42.4zM498 503.0v-28.3h3v28.3zM501 503.0v-42.4h1v42.4zM502 503.0v-28.3h2v28.3zM504 503.0v-14.1h2v14.1zM506 503.0v-42.4h2v42.4zM508 503.0v-28.3h1v28.3zM509 503.0v-14.1h1v14.1zM510 503.0v-28.3h2v28.3zM512 503.0v-14.1h1v14.1zM513 503.0v-42.4h1v42.4zM514 503.0v-28.3h4v28.3zM518 503.0v-56.5h2v56.5zM520 503.0v-28.3h1v28.3zM521 503.0v-14.1h3v14.1zM524 503.0v-42.4h1v42.4zM525 503.0v-14.1h3v14.1zM528 503.0v-42.4h1v42.4zM529 503.0v-14.1h3v14.1zM532 503.0v-28.3h1v28.3zM533 503.0v-14.1h1v14.1zM534 503.0v-42.4h3v42.4zM537 503.0v-14.1h1v14.1zM538 503.0v-28.3h1v28.3zM539 503.0v-42.4h2v42.4zM541 503.0v-28.3h1v28.3zM542 503.0v-42.4h1v42.4zM543 503.0v-28.3h2v28.3zM545 503.0v-14.1h1v14.1zM546 503.0v-42.4h7v42.4zM553 503.0v-56.5h1v56.5zM554 503.0v-42.4h4v42.4zM558 503.0v-56.5h3v56.5zM561 503.0v-70.7h1v70.7z" fill="#ff0000" clip-path="url(#cp2)"/>
<rect x="57" y="347" width="507" height="1" fill="#808080"/>
<line x1="59" x2="563" y1="347.5" y2="347.5" stroke="#000" stroke-dasharray="4 3"/>
<rect x="57" y="347" width="2" height="157" fill="#000"/>
<rect x="562" y="347" width="2" height="157" fill="#000"/>
<rect x="57" y="502" width="507" height="2" fill="#000"/>
<line x1="53" x2="57" y1="503.5" y2="503.5" stroke="#808080"/>
<line x1="564" x2="568" y1="503.5" y2="503.5" stroke="#808080"/>
<line x1="55" x2="57" y1="496.5" y2="496.5" stroke="#808080"/>
<line x1="564" x2="566" y1="496.5" y2="496.5" stroke="#808080"/>
<line x1="53" x2="57" y1="489.5" y2="489.5" stroke="#808080"/>
<line x1="564" x2="568" y1="489.5" y2="489.5" stroke="#808080"/>
<line x1="55" x2="57" y1="482.5" y2="482.5" stroke="#808080"/>
<line x1="564" x2="566" y1="482.5" y2="482.5" stroke="#808080"/>
<line x1="53" x2="57" y1="475.5" y2="475.5" stroke="#808080"/>
<line x1="564" x2="568" y1="475.5" y2="475.5" stroke="#808080"/>
<line x1="55" x2="57" y1="468.5" y2="468.5" stroke="#808080"/>
<line x1="564" x2="566" y1="468.5" y2="468.5" stroke="#808080"/>
<line x1="53" x2="57" y1="461.5" y2="461.5" stroke="#808080"/>
<line x1="564" x2="568" y1="461.5" y2="461.5" stroke="#808080"/>
<line x1="55" x2="57" y1="454.5" y2="454.5" stroke="#808080"/>
<line x1="564" x2="566" y1="454.5" y2="454.5" stroke="#808080"/>
<line x1="53" x2="57" y1="446.5" y2="446.5" stroke="#808080"/>
<line x1="564" x2="568" y1="446.5" y2="446.5" stroke="#808080"/>
<line x1="55" x2="57" y1="439.5" y2="439.5" stroke="#808080"/>
<line x1="564" x2="566" y1="439.5" y2="439.5" stroke="#808080"/>
<line x1="53" x2="57" y1="432.5" y2="432.5" stroke="#808080"/>
<line x1="564" x2="568" y1="432.5" y2="432.5" stroke="#808080"/>
<line x1="55" x2="57" y1="425.5" y2="425.5" stroke="#808080"/>
<line x1="564" x2="566" y1="425.5" y2="425.5" stroke="#808080"/>
<line x1="53" x2="57" y1="418.5" y2="418.5" stroke="#808080"/>
<line x1="564" x2="568" y1="418.5" y2="418.5" stroke="#808080"/>
<line x1="55" x2="57" y1="411.5" y2="411.5" stroke="#808080"/>
<line x1="564" x2="566" y1="411.5" y2="411.5" stroke="#808080"/>
<line x1="53" x2="57" y1="404.5" y2="404.5" stroke="#808080"/>
<line x1="564" x2="568" y1="404.5" y2="404.5" stroke="#808080"/>
<line x1="55" x2="57" y1="397.5" y2="397.5" stroke="#808080"/>
<line x1="564" x2="566" y1="397.5" y2="397.5" stroke="#808080"/>
<line x1="53" x2="57" y1="390.5" y2="390.5" stroke="#808080"/>
<line x1="564" x2="568" y1="390.5" y2="390.5" stroke="#808080"/>
<line x1="55" x2="57" y1="383.5" y2="383.5" stroke="#808080"/>
<line x1="564" x2="566" y1="383.5" y2="383.5" stroke="#808080"/>
<line x1="53" x2="57" y1="376.5" y2="376.5" stroke="#808080"/>
<line x1="564" x2="568" y1="376.5" y2="376.5" stroke="#808080"/>
<line x1="55" x2="57" y1="369.5" y2="369.5" stroke="#808080"/>
<line x1="564" x2="566" y1="369.5" y2="369.5" stroke="#808080"/>
<line x1="53" x2="57" y1="362.5" y2="362.5" stroke="#808080"/>
<line x1="564" x2="568" y1="362.5" y2="362.5" stroke="#808080"/>
<line x1="55" x2="57" y1="355.5" y2="355.5" stroke="#808080"/>
<line x1="564" x2="566" y1="355.5" y2="355.5" stroke="#808080"/>
<line x1="53" x2="57" y1="348.5" y2="348.5" stroke="#808080"/>
<line x1="564" x2="568" y1="348.5" y2="348.5" stroke="#808080"/>
<line x1="58.5" x2="58.5" y1="504" y2="508" stroke="#808080"/>
<line x1="88.5" x2="88.5" y1="504" y2="508" stroke="#808080"/>
<line x1="131.5" x2="131.5" y1="504" y2="508" stroke="#808080"/>
<line x1="174.5" x2="174.5" y1="504" y2="508" stroke="#808080"/>
<line x1="216.5" x2="216.5" y1="504" y2="508" stroke="#808080"/>
<line x1="259.5" x2="259.5" y1="504" y2="508" stroke="#808080"/>
<line x1="302.5" x2="302.5" y1="504" y2="508" stroke="#808080"/>
<line x1="348.5" x2="348.5" y1="504" y2="508" stroke="#808080"/>
<line x1="399.5" x2="399.5" y1="504" y2="508" stroke="#808080"/>
<line x1="449.5" x2="449.5" y1="504" y2="508" stroke="#808080"/>
<line x1="500.5" x2="500.5" y1="504" y2="508" stroke="#808080"/>
<line x1="552.5" x2="552.5" y1="504" y2="508" stroke="#808080"/>
<line x1="68.5" x2="68.5" y1="504" y2="506" stroke="#808080"/>
<line x1="78.5" x2="78.5" y1="504" y2="506" stroke="#808080"/>
<line x1="99.5" x2="99.5" y1="504" y2="506" stroke="#808080"/>
<line x1="110.5" x2="110.5" y1="504" y2="506" stroke="#808080"/>
<line x1="120.5" x2="120.5" y1="504" y2="506" stroke="#808080"/>
<line x1="142.5" x2="142.5" y1="504" y2="506" stroke="#808080"/>
<line x1="153.5" x2="153.5" y1="504" y2="506" stroke="#808080"/>
<line x1="163.5" x2="163.5" y1="504" y2="506" stroke="#808080"/>
<line x1="185.5" x2="185.5" y1="504" y2="506" stroke="#808080"/>
<line x1="195.5" x2="195.5" y1="504" y2="506" stroke="#808080"/>
<line x1="206.5" x2="206.5" y1="504" y2="506" stroke="#808080"/>
<line x1="227.5" x2="227.5" y1="504" y2="506" stroke="#808080"/>
<line x1="238.5" x2="238.5" y1="504" y2="506" stroke="#808080"/>
<line x1="248.5" x2="248.5" y1="504" y2="506" stroke="#808080"/>
<line x1="270.5" x2="270.5" y1="504" y2="506" stroke="#808080"/>
<line x1="281.5" x2="281.5" y1="504" y2="506" stroke="#808080"/>
<line x1="291.5" x2="291.5" y1="504" y2="506" stroke="#808080"/>
<line x1="314.5" x2="314.5" y1="504" y2="506" stroke="#808080"/>
<line x1="325.5" x2="325.5" y1="504" y2="506" stroke="#808080"/>
<line x1="337.5" x2="337.5" y1="504" y2="506" stroke="#808080"/>
<line x1="361.5" x2="361.5" y1="504" y2="506" stroke="#808080"/>
<line x1="374.5" x2="374.5" y1="504" y2="506" stroke="#808080"/>
<line x1="386.5" x2="386.5" y1="504" y2="506" stroke="#808080"/>
<line x1="412.5" x2="412.5" y1="504" y2="506" stroke="#808080"/>
<line x1="424.5" x2="424.5" y1="504" y2="506" stroke="#808080"/>
<line x1="437.5" x2="437.5" y1="504" y2="506" stroke="#808080"/>
<line x1="462.5" x2="462.5" y1="504" y2="506" stroke="#808080"/>
<line x1="475.5" x2="475.5" y1="504" y2="506" stroke="#808080"/>
<line x1="487.5" x2="487.5" y1="504" y2="506" stroke="#808080"/>
<line x1="513.5" x2="513.5" y1="504" y2="506" stroke="#808080"/>
<line x1="526.5" x2="526.5" y1="504" y2="506" stroke="#808080"/>
<line x1="539.5" x2="539.5" y1="504" y2="506" stroke="#808080"/>
<line x1="560.5" x2="560.5" y1="504" y2="506" stroke="#808080"/>
<g font-family="Liberation Sans, Arial, sans-serif" font-size="11" font-weight="normal" letter-spacing="0" fill="#000" shape-rendering="auto">
<text x="52.5" y="505.9" text-anchor="end">0</text>
<text x="568.5" y="505.9">0</text>
<text x="52.5" y="491.8" text-anchor="end">1</text>
<text x="568.5" y="491.8">1</text>
<text x="52.5" y="477.6" text-anchor="end">2</text>
<text x="568.5" y="477.6">2</text>
<text x="52.5" y="463.5" text-anchor="end">3</text>
<text x="568.5" y="463.5">3</text>
<text x="52.5" y="449.4" text-anchor="end">4</text>
<text x="568.5" y="449.4">4</text>
<text x="52.5" y="435.2" text-anchor="end">5</text>
<text x="568.5" y="435.2">5</text>
<text x="52.5" y="421.1" text-anchor="end">6</text>
<text x="568.5" y="421.1">6</text>
<text x="52.5" y="407.0" text-anchor="end">7</text>
<text x="568.5" y="407.0">7</text>
<text x="52.5" y="392.9" text-anchor="end">8</text>
<text x="568.5" y="392.9">8</text>
<text x="52.5" y="378.7" text-anchor="end">9</text>
<text x="568.5" y="378.7">9</text>
<text x="52.5" y="364.6" text-anchor="end">10</text>
<text x="568.5" y="364.6">10</text>
<text x="52.5" y="350.5" text-anchor="end">11</text>
<text x="568.5" y="350.5">11</text>
<text x="57.6" y="518.5" text-anchor="middle">13h</text>
<text x="87.6" y="518.5" text-anchor="middle">18123h</text>
<text x="130.7" y="518.5" text-anchor="middle">3B027h</text>
<text x="173" y="518.5" text-anchor="middle">60063h</text>
<text x="215.6" y="518.5" text-anchor="middle">89252h</text>
<text x="258.7" y="518.5" text-anchor="middle">B2671h</text>
<text x="302.5" y="518.5" text-anchor="middle">E0E29h</text>
<text x="348.8" y="518.5" text-anchor="middle">11858Eh</text>
<text x="399" y="518.5" text-anchor="middle">15413Fh</text>
<text x="449.7" y="518.5" text-anchor="middle">195164h</text>
<text x="500" y="518.5" text-anchor="middle">1D7917h</text>
<text x="551" y="518.5" text-anchor="middle">21E029h</text>
</g>
</svg>
<div class="ctitle" style="top:330px;letter-spacing:0.28px">PO (Parity Outer)</div>

<div class="grp" style="left:610px;top:105px;width:168px;height:96px"></div>
<div class="grp" style="left:610px;top:200px;width:168px;height:143px"></div>
<div class="grp" style="left:610px;top:342px;width:168px;height:114px"></div>
<div class="grp" style="left:610px;top:462px;width:168px;height:67px"></div>

<div class="edit" style="left:618px;top:111px;width:153px;height:20px"></div>
<div style="left:621px;top:113px;width:131px;height:16px;background:#316ac5;border:1px dotted #d8b060"></div>
<div class="t" style="left:622.5px;top:115.5px;color:#fff;letter-spacing:0.5px">C1C2/PIPO</div>
<div class="ddbtn" style="left:753px;top:112px;width:17px;height:18px;border-left:1px solid #000"></div>
<div class="arrow" style="left:758px;top:119px"></div>

<div class="chk" style="left:619px;top:138px"></div>
<svg style="left:621px;top:140px" width="8" height="8" viewBox="0 0 8 8"><path d="M0.5 3.5L2.5 5.5L7 1" stroke="#000" stroke-width="1.6" fill="none"/></svg>
<div class="t navy" style="left:637px;top:137px;letter-spacing:0.27px">Realtime Chart</div>

<div class="t" style="left:618px;top:156px">Speed</div>
<div class="edit" style="left:664px;top:154px;width:34px;height:17px"></div>
<div class="t navy" style="left:666.5px;top:157px">2</div>
<div class="t" style="left:700px;top:156px">X</div>
<div class="chk" style="left:722px;top:157px"></div>
<div class="t navy" style="left:741px;top:156px;letter-spacing:-0.3px">Max</div>

<div class="t" style="left:618px;top:180px;letter-spacing:0.65px">PI/PO Sum</div>
<div class="edit" style="left:694px;top:175px;width:45px;height:21px"></div>
<div class="t" style="left:699px;top:180px">1</div>
<div class="ddbtn" style="left:720px;top:176px;width:18px;height:19px;border-left:1px solid #000"></div>
<div class="arrow" style="left:725px;top:184px"></div>
<div class="t" style="left:746px;top:180px;letter-spacing:-0.6px">ECC</div>

<div class="radio" style="left:619px;top:206px"></div>
<div class="t navy" style="left:637px;top:206px;letter-spacing:-0.6px">MSF</div>
<div class="t" style="left:631px;top:224px">Start</div>
<div class="edit" style="left:666px;top:222px;width:33px;height:17px"></div><div class="t navy" style="left:668px;top:225px">00</div>
<div class="t" style="left:702px;top:224px">:</div>
<div class="edit" style="left:710px;top:222px;width:25px;height:17px"></div><div class="t navy" style="left:712px;top:225px">02</div>
<div class="t" style="left:737px;top:224px">:</div>
<div class="edit" style="left:745px;top:222px;width:25px;height:17px"></div><div class="t navy" style="left:747px;top:225px">00</div>
<div class="t" style="left:639px;top:244px">End</div>
<div class="edit" style="left:666px;top:242px;width:33px;height:17px"></div><div class="t navy" style="left:668px;top:245px">508</div>
<div class="t" style="left:702px;top:244px">:</div>
<div class="edit" style="left:710px;top:242px;width:25px;height:17px"></div><div class="t navy" style="left:712px;top:245px">16</div>
<div class="t" style="left:737px;top:244px">:</div>
<div class="edit" style="left:745px;top:242px;width:25px;height:17px"></div><div class="t navy" style="left:747px;top:245px">01</div>

<div class="radio" style="left:619px;top:264px"></div>
<div class="t navy" style="left:637px;top:264px;letter-spacing:-0.2px">LBA</div>
<div class="t" style="left:631px;top:282px">Start</div>
<div class="edit" style="left:666px;top:280px;width:73px;height:17px"></div><div class="t navy" style="left:668px;top:283px">0</div>
<div class="t" style="left:742px;top:282px">h</div>
<div class="t" style="left:639px;top:302px">End</div>
<div class="edit" style="left:666px;top:300px;width:73px;height:17px"></div><div class="t navy" style="left:668px;top:303px">22E5CB</div>
<div class="t" style="left:742px;top:302px">h</div>

<div class="radio" style="left:619px;top:326px"></div>
<div style="left:623px;top:330px;width:4px;height:4px;background:#000;border-radius:2px"></div>
<div class="t navy" style="left:637px;top:326px">Disc Size</div>

<div class="t navy u" style="left:636px;top:348px;letter-spacing:0px">Max.</div>
<div class="t navy u" style="left:671px;top:348px;letter-spacing:0.6px">Total</div>
<div class="t navy u" style="left:722px;top:348px;letter-spacing:0.4px">Avg</div>
<div class="t" style="left:616px;top:364px">PI</div>
<div class="t val" style="left:637px;top:364px;color:#800080">37</div>
<div class="t val" style="left:672px;top:364px;color:#800080">247956</div>
<div class="t val" style="left:722px;top:364px;color:#800080">6.446</div>
<div class="t" style="left:616px;top:380px">PO</div>
<div class="t val" style="left:637px;top:380px;color:#f00">11</div>
<div class="t val" style="left:672px;top:380px;color:#f00">35976</div>
<div class="t val" style="left:722px;top:380px;color:#f00">0.935</div>
<div class="t" style="left:618px;top:395px;letter-spacing:0.15px">Current Spd</div><div class="t navy" style="left:707px;top:395px">2.01</div><div class="t navy" style="left:746.5px;top:395px;letter-spacing:0">X</div>
<div class="t" style="left:618px;top:409px;letter-spacing:0px">Current MSF</div><div class="t navy" style="left:707px;top:409px;letter-spacing:0px">00:00:00</div>
<div class="t" style="left:618px;top:422px">Current LBA</div><div class="t navy" style="left:707px;top:422px;letter-spacing:0px">22E5BDh</div>
<div id="prog" style="left:618px;top:438px;width:152px;height:12px"></div><div style="left:767px;top:439px;width:2px;height:10px;background:#e8f0fa"></div>
<div class="t" style="left:618px;top:437.5px;width:152px;text-align:center;font-family:'Liberation Sans',sans-serif;font-weight:normal;letter-spacing:0;transform:scaleX(0.82)">99%</div>

<div class="btn" style="left:618px;top:468px;width:33px;height:23px"></div>
<div class="btn" style="left:650px;top:468px;width:33px;height:23px"></div>
<div class="btn" style="left:682px;top:468px;width:33px;height:23px"></div>

<svg style="left:625px;top:471px" width="18" height="16" viewBox="0 0 18 16" shape-rendering="crispEdges">
<path d="M5 1h9l-2 5H3z" fill="#fff" stroke="#000"/>
<path d="M6 3h5M5 5h5" stroke="#000"/>
<path d="M1.5 7.5h12l3-3v5l-3 3h-12z" fill="#fff" stroke="#000"/>
<path d="M1 9.5h13M1 11.5h13M13.5 7v6M14 10l3-3" stroke="#000" fill="none"/>
<rect x="9" y="10" width="3" height="1" fill="#e0e000"/>
<path d="M3 13.5h10v1.5H3z" fill="#fff" stroke="#000"/>
</svg>
<svg style="left:658px;top:472px" width="16" height="15" viewBox="0 0 16 15" shape-rendering="crispEdges">
<path d="M1.5 0.5h13v13h-12l-1-1z" fill="#808000" stroke="#000"/>
<rect x="4" y="1" width="8" height="6" fill="#fff"/>
<rect x="12" y="2" width="1" height="1" fill="#fff"/>
<rect x="4" y="9" width="8" height="4" fill="#000"/>
<rect x="9" y="10" width="2" height="3" fill="#fff"/>
</svg>
<svg style="left:690px;top:472px" width="16" height="13" viewBox="0 0 16 13" shape-rendering="crispEdges">
<path d="M1.5 2.5l1.5-2h3l1.5 2h6v8h-12z" fill="#f2ee8c" stroke="#000"/>
<path d="M2 11.5h13M14.5 4v8" stroke="#000"/>
<rect x="3" y="4" width="9" height="5" fill="#fbf7a8"/>
<rect x="4" y="5" width="3" height="1" fill="#000"/><rect x="8" y="4" width="3" height="2" fill="#000"/>
<rect x="5" y="6" width="2" height="2" fill="#00f"/><rect x="7" y="7" width="2" height="2" fill="#f00"/>
<rect x="9" y="6" width="2" height="2" fill="#e0d800"/><rect x="3" y="8" width="2" height="1" fill="#b8b000"/>
</svg>
<div class="btn" style="left:618px;top:498px;width:73px;height:25px"><span style="color:#9a9a9a">Stop</span></div>
<div class="btn" style="left:698px;top:498px;width:73px;height:25px"><span>Start</span></div>

<div id="status"></div>
<div id="stext" class="t">Done.</div>
</body></html>
